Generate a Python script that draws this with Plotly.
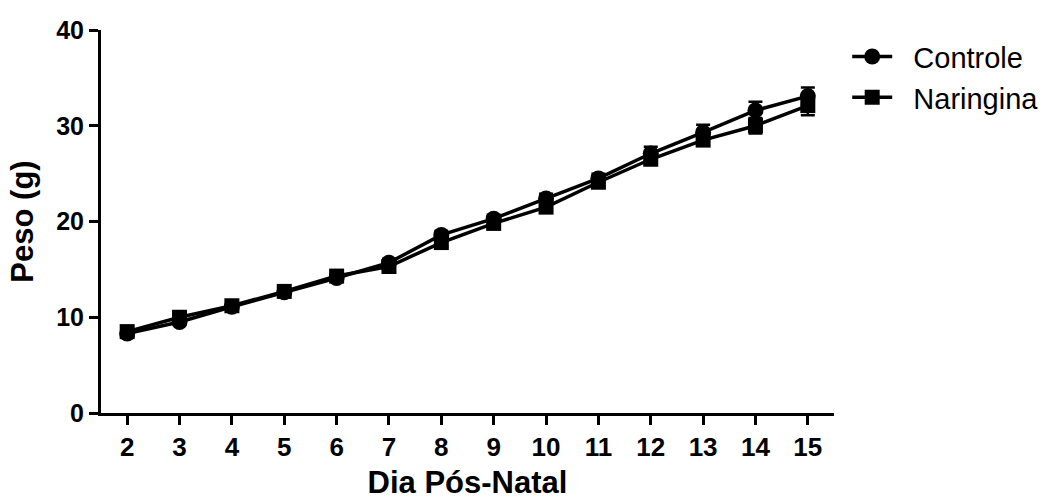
import plotly.graph_objects as go

dias = [2, 3, 4, 5, 6, 7, 8, 9, 10, 11, 12, 13, 14, 15]
controle = [8.3, 9.5, 11.1, 12.6, 14.1, 15.7, 18.6, 20.3, 22.4, 24.5, 27.1, 29.3, 31.6, 33.1]
controle_se = [0.3, 0.3, 0.3, 0.3, 0.3, 0.4, 0.4, 0.4, 0.5, 0.5, 0.7, 0.8, 0.9, 0.9]
naringina = [8.5, 10.0, 11.2, 12.7, 14.3, 15.3, 17.8, 19.8, 21.5, 24.1, 26.5, 28.5, 30.0, 32.1]
naringina_se = [0.3, 0.3, 0.3, 0.3, 0.3, 0.3, 0.4, 0.4, 0.4, 0.5, 0.5, 0.6, 0.8, 1.0]
y_ticks = [0, 10, 20, 30, 40]

FONT = "Liberation Sans, Arial, sans-serif"
PAD = "\u00a0\u00a0"

fig = go.Figure()
fig.add_trace(go.Scatter(
    x=dias, y=controle, name=PAD + "Controle", mode="lines+markers",
    line=dict(color="black", width=3.5),
    marker=dict(symbol="circle", size=16, color="black"),
    error_y=dict(type="data", array=controle_se, visible=True, color="black", thickness=2.5, width=7),
))
fig.add_trace(go.Scatter(
    x=dias, y=naringina, name=PAD + "Naringina", mode="lines+markers",
    line=dict(color="black", width=3.5),
    marker=dict(symbol="square", size=15, color="black"),
    error_y=dict(type="data", array=naringina_se, visible=True, color="black", thickness=2.5, width=7),
))

fig.update_layout(
    width=1056, height=500,
    margin=dict(l=101, r=220, t=30, b=87),
    paper_bgcolor="white", plot_bgcolor="white",
    font=dict(family=FONT, color="black"),
    legend=dict(x=1.018, y=0.997, xanchor="left", yanchor="top",
                font=dict(family=FONT, size=29, color="black"),
                itemwidth=40,
                bgcolor="rgba(0,0,0,0)", tracegroupgap=0),
    xaxis=dict(
        range=[1.5, 15.5], tickvals=dias, ticktext=[str(d) for d in dias],
        showline=True, linecolor="black", linewidth=3, mirror=False,
        ticks="outside", ticklen=9, tickwidth=3, tickcolor="black",
        showgrid=False, zeroline=False, automargin=False,
        tickfont=dict(family=FONT, size=26, color="black", weight="bold"),
        title=dict(text="<b>Dia Pós-Natal</b>", font=dict(family=FONT, size=31, color="black"), standoff=16),
    ),
    yaxis=dict(
        range=[0, 40], tickvals=y_ticks,
        showline=True, linecolor="black", linewidth=3, mirror=False,
        ticks="outside", ticklen=9, tickwidth=3, tickcolor="black",
        showgrid=False, zeroline=False, automargin=False,
        tickfont=dict(family=FONT, size=25, color="black", weight="bold"),
        title=dict(text="<b>Peso (g)</b>", font=dict(family=FONT, size=31, color="black"), standoff=14),
    ),
)

fig.write_html("out.html", post_script="document.body.style.margin='0';",
               config={"displayModeBar": False})
